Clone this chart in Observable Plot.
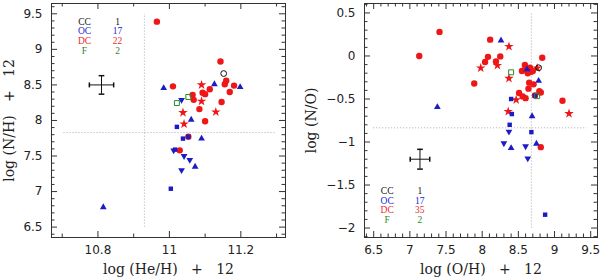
<!DOCTYPE html>
<html><head><meta charset="utf-8">
<script src="https://cdn.jsdelivr.net/npm/d3@7"></script>
<script src="https://cdn.jsdelivr.net/npm/@observablehq/plot@0.6"></script>
<style>
html,body{margin:0;padding:0;background:#fff;}
#wrap{position:relative;width:600px;height:277px;overflow:hidden;background:#fff;}
#left,#right{position:absolute;top:0;width:300px;height:277px;}
#left{left:0;} #right{left:300px;}
g[aria-label="x-axis label"] text, g[aria-label="y-axis label"] text{font-family:"DejaVu Serif",serif;font-size:14px;fill:#222;}
g[aria-label="x-axis tick label"] text, g[aria-label="y-axis tick label"] text{font-family:"DejaVu Sans",sans-serif;font-size:12px;fill:#222;}
</style></head><body>
<div id="wrap"><div id="left"></div><div id="right"></div></div>
<script>
// ---------- Left panel: log(He/H)+12 vs log(N/H)+12 ----------
const heDC = [10.965, 11.143, 11.159, 11.155, 11.181, 11.113, 11.090, 11.169, 11.093, 11.100, 11.065, 11.090, 11.068, 11.146, 11.084, 11.130, 11.100, 11.038, 11.041, 11.010, 11.053, 11.029];
const nhDC = [9.39, 8.83, 8.56, 8.51, 8.49, 8.44, 8.50, 8.40, 8.39, 8.37, 8.36, 8.27, 8.29, 8.26, 8.16, 8.12, 7.99, 8.11, 7.95, 8.48, 7.77, 7.58];
const symDC_L = ["o","o","o","o","o","o","*","o","o","o","o","*","o","o","o","*","o","*","*","o","o","o"];
const heOC = [11.198, 11.126, 10.984, 11.034, 11.061, 11.021, 11.038, 11.053, 11.090, 11.012, 11.016, 11.041, 11.057, 11.072, 11.034, 11.004, 10.815];
const nhOC = [8.47, 8.51, 8.455, 8.29, 8.01, 7.91, 7.745, 7.77, 7.745, 7.58, 7.59, 7.50, 7.445, 7.35, 7.30, 7.04, 6.78];
const symOC_L = ["^","^","^","v","^","s","s","s","^","v","s","v","v","^","v","s","^"];
const heCC = [11.152], nhCC = [8.66];
const heF = [11.053, 11.021], nhF = [8.33, 8.245];
const leftXTicks = [10.8, 11, 11.2];
const leftXMinor = [10.7, 10.9, 11.1, 11.3];
const leftYTicks = [6.5, 7, 7.5, 8, 8.5, 9, 9.5];
const leftDomainX = [10.67, 11.325], leftDomainY = [6.354, 9.645];
const leftRefV = [10.93], leftRefVSpan = [6.5, 9.5];
const leftRefH = [7.83], leftRefHSpan = [10.705, 11.3];
const leftErr = [10.81, 8.5], leftErrHalf = [0.034, 0.13];
const leftCounts = [1, 17, 22, 2];

// ---------- Right panel: log(O/H)+12 vs log(N/O) ----------
const ohDC = [7.13, 7.41, 7.89, 7.98, 8.04, 8.08, 8.11, 8.19, 8.21, 8.25, 8.37, 8.37, 8.36, 8.47, 8.51, 8.56, 8.60, 8.55, 8.59, 8.63, 8.66, 8.67, 8.70, 8.76, 8.83, 8.65, 8.71, 8.64, 8.79, 8.81, 9.11, 9.20, 8.81, 8.73, 8.60];
const noDC = [0.00, 0.28, -0.32, -0.14, -0.07, -0.01, 0.19, -0.065, -0.11, -0.005, 0.11, -0.26, -0.645, -0.51, -0.43, -0.47, -0.49, -0.175, -0.105, -0.20, -0.135, -0.185, -0.175, -0.14, -0.02, -0.31, -0.33, -0.38, -0.41, -0.425, -0.52, -0.67, -1.06, -0.46, -0.15];
const symDC_R = ["o","o","o","*","o","o","o","o","*","o","*","*","*","*","o","o","o","o","o","o","o","o","o","*","o","o","o","o","o","o","o","*","o","o","o"];
const ohOC = [8.26, 8.62, 8.78, 8.73, 8.40, 8.41, 8.69, 7.38, 8.38, 8.37, 8.68, 8.30, 8.40, 8.60, 8.75, 8.63, 8.87];
const noOC = [0.18, -0.155, -0.29, -0.46, -0.50, -0.675, -0.70, -0.595, -0.80, -0.88, -0.885, -1.015, -1.07, -1.05, -1.02, -1.19, -1.845];
const symOC_R = ["^","^","^","s","s","s","^","^","s","v","s","v","^","v","^","v","s"];
const ohCC = [8.78], noCC = [-0.137];
const ohF = [8.40, 8.76], noF = [-0.19, -0.467];
const rightXTicks = [6.5, 7, 7.5, 8, 8.5, 9, 9.5];
const rightYTicks = [-2, -1.5, -1, -0.5, 0, 0.5];
const rightDomainX = [6.373, 9.594], rightDomainY = [-2.11, 0.61];
const rightRefV = [8.68], rightRefVSpan = [-2, 0.5];
const rightRefH = [-0.835], rightRefHSpan = [6.5, 9.45];
const rightErr = [7.14, -1.2], rightErrHalf = [0.135, 0.115];
const rightCounts = [1, 17, 35, 2];

const legendGroups = ["CC", "OC", "DC", "F"];
const legendColors = ["#111111", "#2525d8", "#ee2a2a", "#2a8a2a"];
const RED = "#ee1616", BLUE = "#1c1cc4", GREEN = "#2a8a2a", INK = "#333";

const tri = Math.sqrt(3);
const triDown = {draw(ctx, size) { const y = -Math.sqrt(size / (tri * 3)); ctx.moveTo(0, -y * 2); ctx.lineTo(-tri * y, y); ctx.lineTo(tri * y, y); ctx.closePath(); }};
const vBar = {draw(ctx, size) { const h = Math.sqrt(size) / 2; ctx.moveTo(0, -h); ctx.lineTo(0, h); }};
const hBar = {draw(ctx, size) { const h = Math.sqrt(size) / 2; ctx.moveTo(-h, 0); ctx.lineTo(h, 0); }};

const rows = (xs, ys, ss) => xs.map((x, i) => ({x, y: ys[i], s: ss ? ss[i] : null}));
const minorOf = (lo, hi, majStep) => d3.range(lo, hi + 1).map(d => d / 10).filter(d => Math.abs(d / majStep - Math.round(d / majStep)) > 1e-6);
const fmt = d => (d < 0 ? "\u2212" : "") + Math.abs(d);

function frameTicks(xMaj, xMin, yMaj, yMin, iw, ih) {
  const L = 6, l = 3.5;
  return [
    Plot.tickX(xMaj, {x: d => d, insetTop: ih - L, stroke: INK}),
    Plot.tickX(xMaj, {x: d => d, insetBottom: ih - L, stroke: INK}),
    Plot.tickX(xMin, {x: d => d, insetTop: ih - l, stroke: INK}),
    Plot.tickX(xMin, {x: d => d, insetBottom: ih - l, stroke: INK}),
    Plot.tickY(yMaj, {y: d => d, insetRight: iw - L, stroke: INK}),
    Plot.tickY(yMaj, {y: d => d, insetLeft: iw - L, stroke: INK}),
    Plot.tickY(yMin, {y: d => d, insetRight: iw - l, stroke: INK}),
    Plot.tickY(yMin, {y: d => d, insetLeft: iw - l, stroke: INK})
  ];
}

function pointMarks(dc, oc, cc, f) {
  return [
    Plot.dot(dc.filter(d => d.s === "o"), {x: "x", y: "y", r: 3.2, fill: RED}),
    Plot.dot(dc.filter(d => d.s === "*"), {x: "x", y: "y", r: 3.0, symbol: "star", fill: RED}),
    Plot.dot(oc.filter(d => d.s === "^"), {x: "x", y: "y", r: 2.5, symbol: "triangle", fill: BLUE}),
    Plot.dot(oc.filter(d => d.s === "v"), {x: "x", y: "y", r: 2.5, symbol: triDown, fill: BLUE}),
    Plot.dot(oc.filter(d => d.s === "s"), {x: "x", y: "y", r: 2.5, symbol: "square", fill: BLUE}),
    Plot.dot(cc, {x: "x", y: "y", r: 2.9, fill: "none", stroke: "#111", strokeWidth: 1}),
    Plot.dot(f, {x: "x", y: "y", r: 2.8, symbol: "square", fill: "none", stroke: GREEN, strokeWidth: 1})
  ];
}

function errMarks(c, h) {
  const [x, y] = c, [dx, dy] = h;
  return [
    Plot.ruleY([y], {y: d => d, x1: x - dx, x2: x + dx, stroke: "#111"}),
    Plot.ruleX([x], {x: d => d, y1: y - dy, y2: y + dy, stroke: "#111"}),
    Plot.dot([x - dx, x + dx], {x: d => d, y: () => y, symbol: vBar, r: 2.8, fill: "none", stroke: "#111"}),
    Plot.dot([y - dy, y + dy], {x: () => x, y: d => d, symbol: hBar, r: 3.2, fill: "none", stroke: "#111"})
  ];
}

function refMarks(v, vs, hh, hs) {
  return [
    Plot.ruleX(v, {x: d => d, y1: vs[0], y2: vs[1], stroke: "#aaa", strokeDasharray: "1,2"}),
    Plot.ruleY(hh, {y: d => d, x1: hs[0], x2: hs[1], stroke: "#aaa", strokeDasharray: "1,2"})
  ];
}

function legendMarks(counts, anchor, dx1, dx2, dy0, step) {
  const m = [];
  legendGroups.forEach((g, i) => {
    m.push(Plot.text([g], {text: d => d, frameAnchor: anchor, dx: dx1, dy: dy0 + i * step, fill: legendColors[i], fontSize: 9.5, fontFamily: "Liberation Serif", textAnchor: "middle", lineAnchor: "middle"}));
    m.push(Plot.text([counts[i]], {text: d => String(d), frameAnchor: anchor, dx: dx2, dy: dy0 + i * step, fill: legendColors[i], fontSize: 9.5, fontFamily: "Liberation Serif", textAnchor: "middle", lineAnchor: "middle"}));
  });
  return m;
}

const S = "\u00a0";
const common = {width: 300, height: 277, style: {fontFamily: "DejaVu Sans", fontSize: "12px", background: "white", color: "#222"}};

// Left
const lm = {l: 51, r: 15, t: 3, b: 40};
const liw = 300 - lm.l - lm.r, lih = 277 - lm.t - lm.b;
const leftPlot = Plot.plot({
  ...common,
  marginLeft: lm.l, marginRight: lm.r, marginTop: lm.t, marginBottom: lm.b,
  x: {domain: leftDomainX, ticks: leftXTicks, tickSize: 0, tickPadding: 8, tickFormat: fmt,
      label: "log (He/H)" + S + S + S + "+" + S + S + S + "12", labelAnchor: "center", labelOffset: 36, labelArrow: false},
  y: {domain: leftDomainY, ticks: leftYTicks, tickSize: 0, tickPadding: 9, tickFormat: fmt,
      label: "log (N/H)" + S + S + S + "+" + S + S + S + "12", labelAnchor: "center", labelOffset: 47, labelArrow: false},
  marks: [
    ...refMarks(leftRefV, leftRefVSpan, leftRefH, leftRefHSpan),
    Plot.frame({stroke: INK}),
    ...frameTicks(leftXTicks, leftXMinor, leftYTicks, minorOf(64, 96, 0.5), liw, lih),
    ...errMarks(leftErr, leftErrHalf),
    ...legendMarks(leftCounts, "top-left", 33, 66, 18, 9.8),
    ...pointMarks(rows(heDC, nhDC, symDC_L), rows(heOC, nhOC, symOC_L), rows(heCC, nhCC), rows(heF, nhF))
  ]
});
document.getElementById("left").appendChild(leftPlot);

// Right
const rm = {l: 64, r: 3, t: 3, b: 40};
const riw = 300 - rm.l - rm.r, rih = 277 - rm.t - rm.b;
const rightPlot = Plot.plot({
  ...common,
  marginLeft: rm.l, marginRight: rm.r, marginTop: rm.t, marginBottom: rm.b,
  x: {domain: rightDomainX, ticks: rightXTicks, tickSize: 0, tickPadding: 8, tickFormat: fmt,
      label: "log (O/H)" + S + S + S + "+" + S + S + S + "12", labelAnchor: "center", labelOffset: 36, labelArrow: false},
  y: {domain: rightDomainY, ticks: rightYTicks, tickSize: 0, tickPadding: 9, tickFormat: fmt,
      label: "log (N/O)", labelAnchor: "center", labelOffset: 58, labelArrow: false},
  marks: [
    ...refMarks(rightRefV, rightRefVSpan, rightRefH, rightRefHSpan),
    Plot.frame({stroke: INK}),
    ...frameTicks(rightXTicks, minorOf(64, 95, 0.5), rightYTicks, minorOf(-21, 6, 0.5), riw, rih),
    ...errMarks(rightErr, rightErrHalf),
    ...legendMarks(rightCounts, "bottom-left", 22.7, 55.3, -46.8, 9.8),
    ...pointMarks(rows(ohDC, noDC, symDC_R), rows(ohOC, noOC, symOC_R), rows(ohCC, noCC), rows(ohF, noF))
  ]
});
document.getElementById("right").appendChild(rightPlot);
</script>
</body></html>
